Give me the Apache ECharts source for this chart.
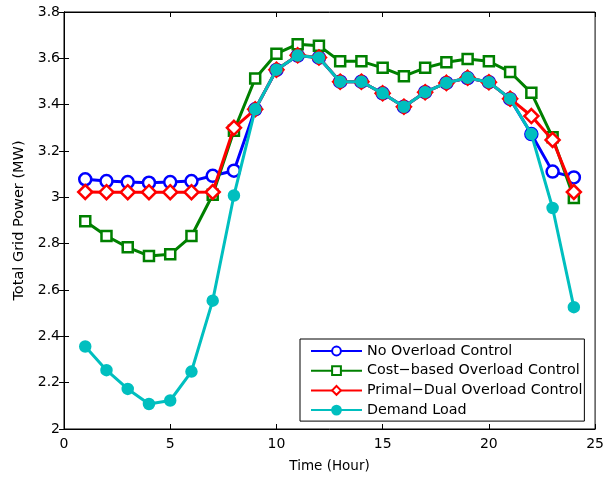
<!DOCTYPE html>
<html><head><meta charset="utf-8">
<script src="https://cdn.jsdelivr.net/npm/echarts@6/dist/echarts.min.js"></script>
<style>html,body{margin:0;padding:0;background:#fff}#c{width:607px;height:478px}</style>
</head><body><div id="c"></div>
<script>
const hours = [1,2,3,4,5,6,7,8,9,10,11,12,13,14,15,16,17,18,19,20,21,22,23,24];
const noControl = [3.078,3.07,3.066,3.063,3.066,3.07,3.093,3.115,3.38,3.55,3.612,3.603,3.499,3.499,3.449,3.391,3.454,3.494,3.515,3.497,3.425,3.273,3.111,3.086];
const costBased = [2.897,2.833,2.784,2.747,2.754,2.833,3.011,3.287,3.513,3.62,3.661,3.654,3.587,3.587,3.559,3.523,3.559,3.583,3.597,3.587,3.541,3.451,3.259,2.997];
const primalDual = [3.023,3.022,3.022,3.022,3.022,3.022,3.023,3.30,3.38,3.551,3.613,3.604,3.499,3.499,3.449,3.391,3.454,3.494,3.516,3.497,3.426,3.351,3.248,3.023];
const demand = [2.356,2.254,2.173,2.108,2.123,2.248,2.554,3.008,3.38,3.551,3.612,3.603,3.499,3.499,3.449,3.391,3.454,3.494,3.516,3.497,3.426,3.273,2.954,2.526];
const names = ['No Overload Control','Cost\u2212based Overload Control','Primal\u2212Dual Overload Control','Demand Load'];
const xTicks = [0,5,10,15,20,25];
const yTicks = [2,2.2,2.4,2.6,2.8,3,3.2,3.4,3.6,3.8];

const pair = arr => hours.map((h,i)=>[h,arr[i]]);
const font = 'DejaVu Sans, Liberation Sans, Arial, sans-serif';
const chart = echarts.init(document.getElementById('c'), null, {renderer:'canvas'});
const axisLine = {show:true, lineStyle:{color:'#000', width:1}};
const tickIn = {show:true, inside:true, length:5, lineStyle:{color:'#000'}};
function mk(name, data, color, symbol, size, fillColor, z){
  return {name, type:'line', data: pair(data), xAxisIndex:0, yAxisIndex:0,
    symbol, symbolSize:size, showAllSymbol:true, z,
    lineStyle:{color, width:3}, itemStyle:{color: fillColor, borderColor:color, borderWidth:2.5},
    emphasis:{disabled:true}, animation:false};
}
chart.setOption({
  animation:false,
  backgroundColor:'#fff',
  grid:{left:64, right:11, top:12, bottom:46, show:true, borderColor:'#000', borderWidth:1},
  xAxis:[
    {type:'value', min:0, max:25, interval:5, position:'bottom', axisLine, axisTick:tickIn, splitLine:{show:false},
     axisLabel:{color:'#000', fontFamily:font, fontSize:14, margin:8, formatter:v=>xTicks.includes(v)?String(v):''},
     name:'Time (Hour)', nameLocation:'middle', nameGap:30, nameTextStyle:{color:'#000', fontFamily:font, fontSize:13.5}},
    {type:'value', min:0, max:25, interval:5, position:'top', axisLine, axisTick:tickIn, axisLabel:{show:false}, splitLine:{show:false}}
  ],
  yAxis:[
    {type:'value', min:2, max:3.8, interval:0.2, position:'left', axisLine, axisTick:tickIn, splitLine:{show:false},
     axisLabel:{color:'#000', fontFamily:font, fontSize:14, margin:4, formatter:v=>{const r=Math.round(v*10)/10; return yTicks.includes(r)?String(r):'';}},
     name:'Total Grid Power (MW)', nameLocation:'middle', nameGap:36, nameRotate:90, nameTextStyle:{color:'#000', fontFamily:font, fontSize:14.5}},
    {type:'value', min:2, max:3.8, interval:0.2, position:'right', axisLine, axisTick:tickIn, axisLabel:{show:false}, splitLine:{show:false}}
  ],
  legend:{
    data:names, orient:'vertical', left:300, top:339,
    backgroundColor:'#fff', borderColor:'#000', borderWidth:1,
    padding:[4,2,3,10], itemGap:3.7, itemWidth:51, itemHeight:11,
    textStyle:{color:'#000', fontFamily:font, fontSize:14.3, lineHeight:16}
  },
  series:[
    mk(names[0], noControl, '#0000ff', 'circle', 12, '#fff', 2),
    mk(names[1], costBased, '#008000', 'rect', 10, '#fff', 3),
    mk(names[2], primalDual, '#ff0000', 'diamond', 14, '#fff', 4),
    mk(names[3], demand, '#00bfbf', 'circle', 10, '#00bfbf', 5)
  ]
});
</script></body></html>
